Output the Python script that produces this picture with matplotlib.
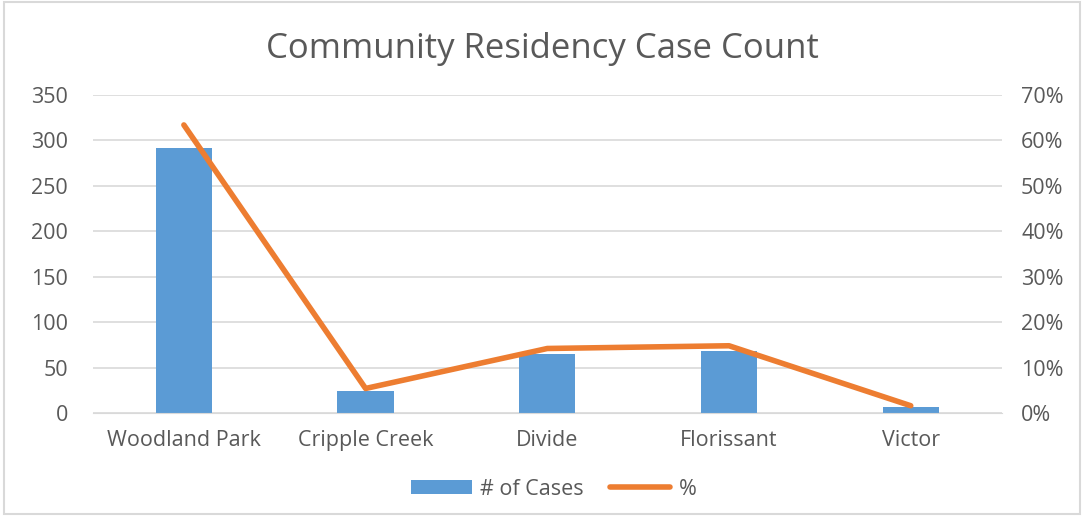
import matplotlib
matplotlib.use('Agg')
import matplotlib.pyplot as plt
import numpy as np
from matplotlib.ticker import PercentFormatter
from matplotlib.patches import Rectangle

communities = ['Woodland Park', 'Cripple Creek', 'Divide', 'Florissant', 'Victor']
cases = [292, 24, 65, 68, 7]
pct = [63.4, 5.4, 14.2, 14.8, 1.6]

plt.rcParams['font.family'] = ['Open Sans', 'DejaVu Sans']
txt = '#595959'

fig = plt.figure(figsize=(10.84, 5.16), dpi=100)
ax = fig.add_axes([0.0858, 0.1996, 0.8382, 0.6164])
ax2 = ax.twinx()

x = np.arange(len(communities))
b = ax.bar(x, cases, width=0.31, color='#5B9BD5', label='# of Cases', zorder=2)
l, = ax2.plot(x, pct, color='#ED7D31', lw=4, solid_capstyle='round', label='%', zorder=3)

ax.set_xlim(-0.5, 4.5)
ax.set_ylim(0, 350)
ax.set_yticks(range(0, 351, 50))
ax2.set_ylim(0, 70)
ax2.set_yticks(range(0, 71, 10))
ax2.yaxis.set_major_formatter(PercentFormatter(decimals=0))
ax.set_xticks(x)
ax.set_xticklabels(communities)

ax.grid(axis='y', color='#D9D9D9', lw=1.2, zorder=0)
ax.set_axisbelow(True)
for a in (ax, ax2):
    for s in a.spines.values():
        s.set_visible(False)
    a.tick_params(length=0, labelsize=15.5, labelcolor=txt)
ax.spines['bottom'].set_visible(True)
ax.spines['bottom'].set_color('#D9D9D9')
ax.tick_params(axis='y', pad=18)
ax.tick_params(axis='x', pad=12)
ax2.tick_params(axis='y', pad=14)

fig.text(0.5, 0.905, 'Community Residency Case Count', ha='center', va='center',
         fontsize=25, color=txt)

fig.legend([b, l], ['# of Cases', '%'], loc='center', bbox_to_anchor=(0.511, 0.052),
           ncol=2, frameon=False, fontsize=15.5, labelcolor=txt, handlelength=2.8,
           handleheight=0.6, handletextpad=0.4, columnspacing=1.2)

fig.patches.append(Rectangle((0.004, 0.004), 0.992, 0.992, transform=fig.transFigure,
                             fill=False, edgecolor='#D9D9D9', lw=1.5))

fig.savefig('out.png', dpi=100)
